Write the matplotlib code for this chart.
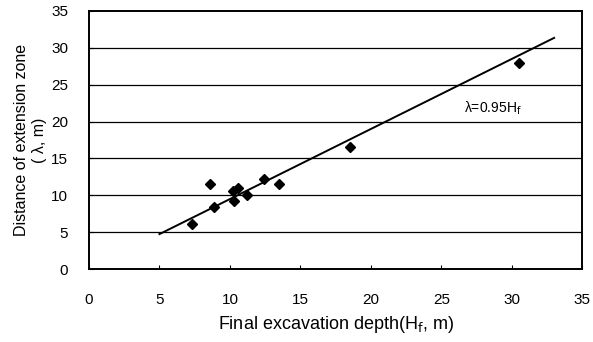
import matplotlib

matplotlib.use("Agg")
import matplotlib.pyplot as plt
import numpy as np

# measured excavation cases
depth = [7.3, 8.6, 8.9, 10.2, 10.6, 10.3, 11.2, 12.4, 13.5, 18.5, 30.5]
extension = [6.1, 11.6, 8.4, 10.6, 11.0, 9.3, 10.0, 12.2, 11.5, 16.5, 28.0]

# fitted relation lambda = 0.95 Hf
fit_coef = 0.95
fit_range = [5.0, 33.0]

x_ticks = [0, 5, 10, 15, 20, 25, 30, 35]
y_ticks = [0, 5, 10, 15, 20, 25, 30, 35]

plt.rcParams["font.family"] = ["Liberation Sans", "DejaVu Sans"]

fig = plt.figure(figsize=(5.93, 3.42), dpi=100)
ax = fig.add_axes([0.150, 0.213, 0.832, 0.755])

for y in y_ticks[1:-1]:
    ax.axhline(y, color="black", linewidth=0.9, zorder=1)

fit_x = np.array(fit_range)
ax.plot(fit_x, fit_coef * fit_x, color="black", linewidth=1.4, zorder=2)
ax.plot(depth, extension, linestyle="none", marker="D", markersize=5.5,
        color="black", zorder=3)

ax.text(26.6, 21.8, "λ=0.95H$_{\\rm f}$", fontsize=10, va="center")

ax.set_xlim(0, 35)
ax.set_ylim(0, 35)
ax.set_xticks(x_ticks)
ax.set_yticks(y_ticks)
ax.tick_params(direction="in", length=3, labelsize=11, pad=15)
ax.tick_params(axis="x", pad=17)
for spine in ax.spines.values():
    spine.set_linewidth(1.4)

ax.set_xlabel("Final excavation depth(H$_{\\rm f}$, m)", fontsize=13, labelpad=5)
ax.set_ylabel("Distance of extension zone\n( λ, m)", fontsize=11.5,
              labelpad=3, linespacing=1.25)

fig.savefig("out.png", dpi=100)
